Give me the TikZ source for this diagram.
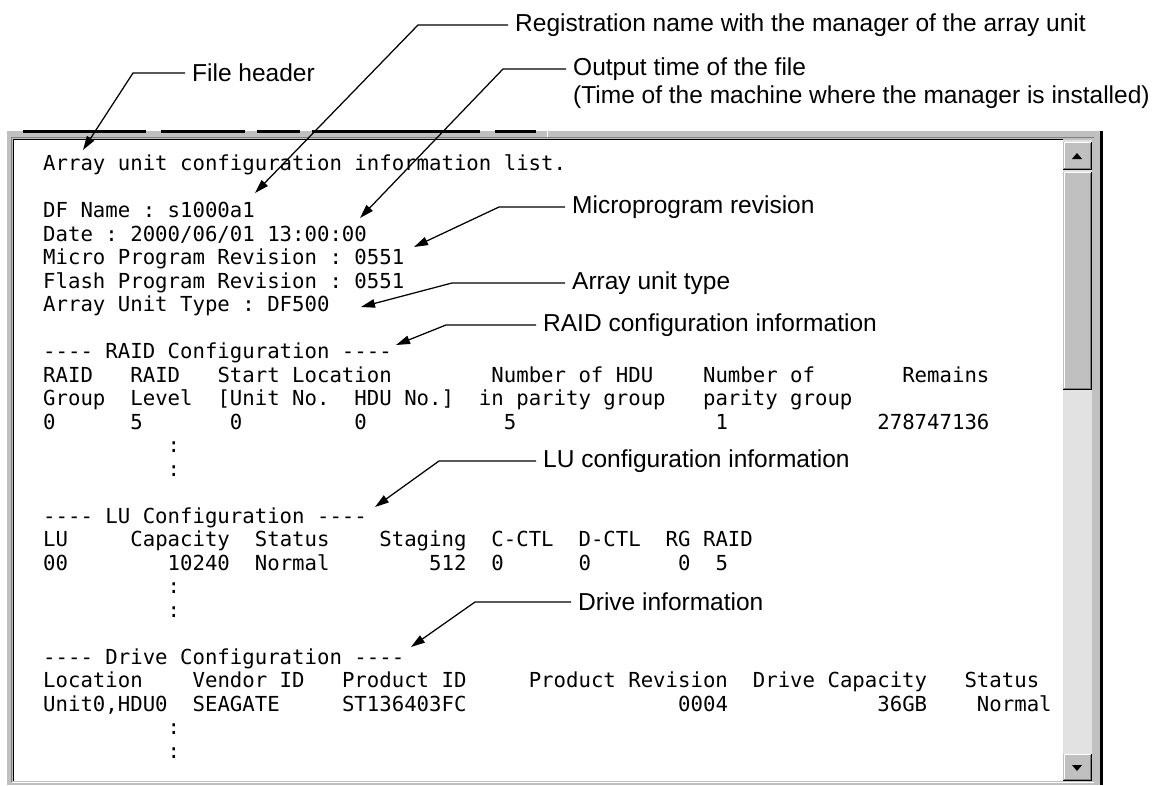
\documentclass[tikz,border=0pt]{standalone}
\usepackage{fontspec}
\setmainfont{Liberation Sans}
\newfontfamily\scrmono{DejaVu Sans Mono}
\usetikzlibrary{arrows.meta}
\definecolor{wgray}{HTML}{C0C0C0}
\definecolor{wdark}{HTML}{808080}
\definecolor{wtrack}{HTML}{E2E2E2}
\newcommand\scrline[3]{\node[mono] (l#1c#2) at ({43+12.45*#2},{170.6+23.5*(#1-1)}) {#3};}
\begin{document}
\begin{tikzpicture}[x=1pt,y=-1pt,
  mono/.style={font=\scrmono\fontsize{20.68}{23.5}\selectfont\frenchspacing, anchor=base west, inner sep=0pt},
  callout/.style={font=\fontsize{24.5}{28}\selectfont, anchor=west, inner sep=0pt},
  leader/.style={line width=1.25pt, -{Triangle[length=14pt,width=8.5pt]}},
]
\useasboundingbox (0,0) rectangle (1160,785);
\fill[white] (0,0) rectangle (1160,785);
% ---------- window frame ----------
\fill[wgray] (7,131) rectangle (1101,785);
\fill[black] (1100,131) rectangle (1103,785);
\foreach \a/\b in {23/146,161/245,257/300,312/480,495/536}
  \fill[black] (\a,129.5) rectangle (\b,132.5);
\draw[white, line width=1pt] (547,129) -- (547,138);
\fill[white] (14,140) rectangle (1063,781);
\draw[wdark, line width=1pt] (11.5,782) -- (11.5,137.5) -- (1094,137.5);
\draw[black, line width=1.5pt] (13.5,781) -- (13.5,139.5) -- (1063,139.5);
\draw[white, line width=1pt] (12,782.5) -- (1094,782.5);
% ---------- scroll bar ----------
\fill[wtrack] (1063,140) rectangle (1092,781);
\foreach \ya/\yb in {142/170,172/390,754/781}{
  \fill[wgray] (1063,\ya) rectangle (1092,\yb);
  \draw[white, line width=1pt] (1064,\yb-1) -- (1064,\ya+0.5) -- (1091,\ya+0.5);
  \draw[wdark, line width=1pt] (1064,\yb-1.5) -- (1090,\yb-1.5) -- (1090,\ya+1);
  \draw[black, line width=1pt] (1063,\yb-0.5) -- (1091.5,\yb-0.5) -- (1091.5,\ya);
}
\fill[black] (1072,159) -- (1082,159) -- (1077,153) -- cycle;
\fill[black] (1072,765) -- (1082,765) -- (1077,771) -- cycle;
% ---------- screen text ----------
\scrline{1}{0}{Array unit configuration information list.}
\scrline{3}{0}{DF Name : s1000a1}
\scrline{4}{0}{Date : 2000/06/01 13:00:00}
\scrline{5}{0}{Micro Program Revision : 0551}
\scrline{6}{0}{Flash Program Revision : 0551}
\scrline{7}{0}{Array Unit Type : DF500}
\scrline{9}{0}{---- RAID Configuration ----}
\scrline{10}{0}{RAID}
\scrline{10}{7}{RAID}
\scrline{10}{14}{Start Location}
\scrline{10}{36}{Number of HDU}
\scrline{10}{53}{Number of}
\scrline{10}{69}{Remains}
\scrline{11}{0}{Group}
\scrline{11}{7}{Level}
\scrline{11}{14}{[Unit No.}
\scrline{11}{25}{HDU No.]}
\scrline{11}{35}{in parity group}
\scrline{11}{53}{parity group}
\scrline{12}{0}{0}
\scrline{12}{7}{5}
\scrline{12}{15}{0}
\scrline{12}{25}{0}
\scrline{12}{37}{5}
\scrline{12}{54}{1}
\scrline{12}{67}{278747136}
\scrline{13}{10}{:}
\scrline{14}{10}{:}
\scrline{16}{0}{---- LU Configuration ----}
\scrline{17}{0}{LU}
\scrline{17}{7}{Capacity}
\scrline{17}{17}{Status}
\scrline{17}{27}{Staging}
\scrline{17}{36}{C-CTL}
\scrline{17}{43}{D-CTL}
\scrline{17}{50}{RG RAID}
\scrline{18}{0}{00}
\scrline{18}{10}{10240}
\scrline{18}{17}{Normal}
\scrline{18}{31}{512}
\scrline{18}{36}{0}
\scrline{18}{43}{0}
\scrline{18}{51}{0}
\scrline{18}{54}{5}
\scrline{19}{10}{:}
\scrline{20}{10}{:}
\scrline{22}{0}{---- Drive Configuration ----}
\scrline{23}{0}{Location}
\scrline{23}{12}{Vendor ID}
\scrline{23}{24}{Product ID}
\scrline{23}{39}{Product Revision}
\scrline{23}{57}{Drive Capacity}
\scrline{23}{74}{Status}
\scrline{24}{0}{Unit0,HDU0}
\scrline{24}{12}{SEAGATE}
\scrline{24}{24}{ST136403FC}
\scrline{24}{51}{0004}
\scrline{24}{67}{36GB}
\scrline{24}{75}{Normal}
\scrline{25}{10}{:}
\scrline{26}{10}{:}
% ---------- callouts ----------
\node[callout] (reg) at (515,25) {Registration name with the manager of the array unit};
\node[callout] (fh) at (192,73) {File header};
\node[callout] (out) at (573,69) {Output time of the file};
\node[callout] (out2) at (573,97) {(Time of the machine where the manager is installed)};
\node[callout] (micro) at (572,207) {Microprogram revision};
\node[callout] (aut) at (572,283) {Array unit type};
\node[callout] (raid) at (543,325) {RAID configuration information};
\node[callout] (lu) at (543,461) {LU configuration information};
\node[callout] (drv) at (578,602) {Drive information};
\coordinate (regk) at (418,25);   \coordinate (regt) at (255,193);
\coordinate (fhk) at (133,73);    \coordinate (fht) at (83,150);
\coordinate (outk) at (503,69);   \coordinate (outt) at (360,218);
\coordinate (microk) at (499,207);\coordinate (microt) at (414,247);
\coordinate (autk) at (452,283);  \coordinate (autt) at (361,307);
\coordinate (raidk) at (446,325); \coordinate (raidt) at (396,345);
\coordinate (luk) at (439,461);   \coordinate (lut) at (375,507);
\coordinate (drvk) at (475,602);  \coordinate (drvt) at (411,647);
\draw[leader] ([xshift=-7pt]reg.west) -- (regk) -- (regt);
\draw[leader] ([xshift=-7pt]fh.west) -- (fhk) -- (fht);
\draw[leader] ([xshift=-7pt]out.west) -- (outk) -- (outt);
\draw[leader] ([xshift=-7pt]micro.west) -- (microk) -- (microt);
\draw[leader] ([xshift=-7pt]aut.west) -- (autk) -- (autt);
\draw[leader] ([xshift=-7pt]raid.west) -- (raidk) -- (raidt);
\draw[leader] ([xshift=-7pt]lu.west) -- (luk) -- (lut);
\draw[leader] ([xshift=-7pt]drv.west) -- (drvk) -- (drvt);
\end{tikzpicture}
\end{document}
